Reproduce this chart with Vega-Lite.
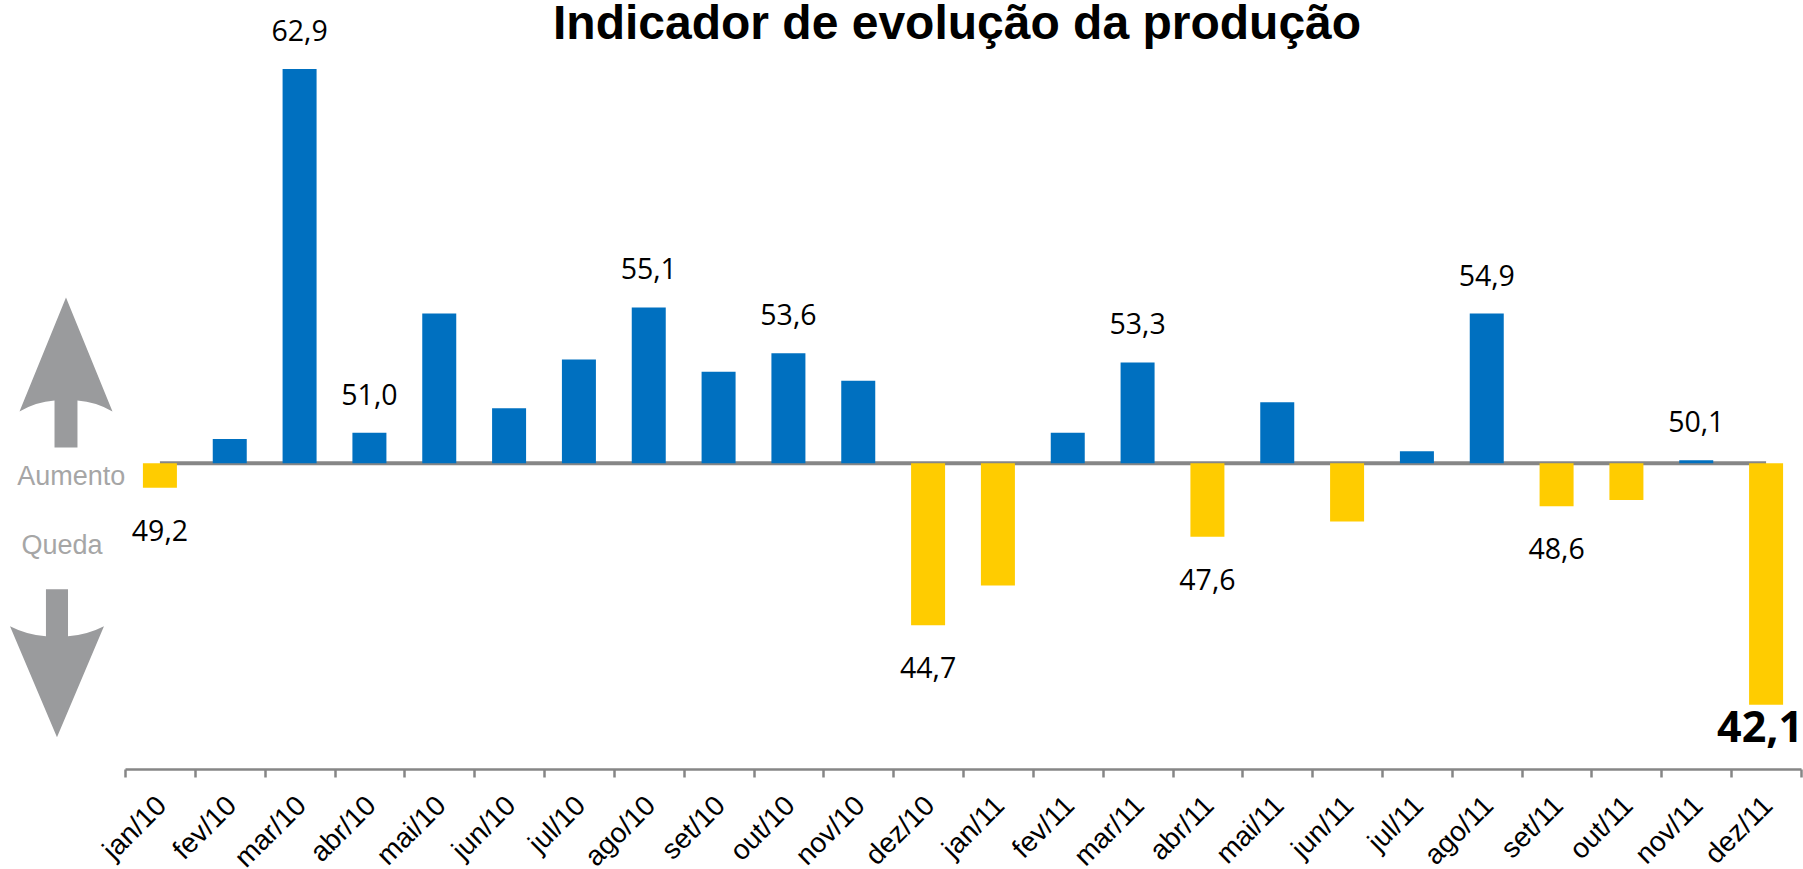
{"$schema":"https://vega.github.io/schema/vega-lite/v6.json","width":1676,"height":769,"autosize":"none","padding":{"left":125,"top":0,"right":2,"bottom":100},"background":"white","data":{"values":[{"mes":"jan/10","valor":49.2,"dir":"Queda","rotulo":"49,2","pos":"abaixo"},{"mes":"fev/10","valor":50.8,"dir":"Aumento"},{"mes":"mar/10","valor":62.9,"dir":"Aumento","rotulo":"62,9","pos":"acima"},{"mes":"abr/10","valor":51.0,"dir":"Aumento","rotulo":"51,0","pos":"acima"},{"mes":"mai/10","valor":54.9,"dir":"Aumento"},{"mes":"jun/10","valor":51.8,"dir":"Aumento"},{"mes":"jul/10","valor":53.4,"dir":"Aumento"},{"mes":"ago/10","valor":55.1,"dir":"Aumento","rotulo":"55,1","pos":"acima"},{"mes":"set/10","valor":53.0,"dir":"Aumento"},{"mes":"out/10","valor":53.6,"dir":"Aumento","rotulo":"53,6","pos":"acima"},{"mes":"nov/10","valor":52.7,"dir":"Aumento"},{"mes":"dez/10","valor":44.7,"dir":"Queda","rotulo":"44,7","pos":"abaixo"},{"mes":"jan/11","valor":46.0,"dir":"Queda"},{"mes":"fev/11","valor":51.0,"dir":"Aumento"},{"mes":"mar/11","valor":53.3,"dir":"Aumento","rotulo":"53,3","pos":"acima"},{"mes":"abr/11","valor":47.6,"dir":"Queda","rotulo":"47,6","pos":"abaixo"},{"mes":"mai/11","valor":52.0,"dir":"Aumento"},{"mes":"jun/11","valor":48.1,"dir":"Queda"},{"mes":"jul/11","valor":50.4,"dir":"Aumento"},{"mes":"ago/11","valor":54.9,"dir":"Aumento","rotulo":"54,9","pos":"acima"},{"mes":"set/11","valor":48.6,"dir":"Queda","rotulo":"48,6","pos":"abaixo"},{"mes":"out/11","valor":48.8,"dir":"Queda"},{"mes":"nov/11","valor":50.1,"dir":"Aumento","rotulo":"50,1","pos":"acima"},{"mes":"dez/11","valor":42.1,"dir":"Queda","rotulo":"42,1","pos":"destaque"}]},"layer":[{"encoding":{"x":{"field":"mes","type":"nominal","sort":null,"title":null,"scale":{"paddingInner":0,"paddingOuter":0},"axis":{"orient":"bottom","tickBand":"extent","grid":false,"domainColor":"#868686","domainWidth":2.5,"tickColor":"#868686","tickWidth":2.5,"tickSize":8,"labelAngle":-45,"labelAlign":"right","labelBaseline":"middle","labelFont":"Liberation Sans","labelFontSize":28,"labelColor":"black","labelPadding":24,"labelOffset":2,"labelOverlap":false}},"y":{"field":"valor","type":"quantitative","scale":{"domain":[40,65.16],"nice":false,"zero":false},"axis":null}},"layer":[{"mark":{"type":"line","color":"#868686","strokeWidth":4},"encoding":{"y":{"datum":50}}},{"mark":{"type":"bar","size":34},"encoding":{"y2":{"datum":50},"color":{"field":"dir","type":"nominal","scale":{"domain":["Aumento","Queda"],"range":["#0070c0","#ffcc00"]},"legend":null}}},{"transform":[{"filter":"datum.pos==='acima'"}],"mark":{"type":"text","font":"Open Sans","fontSize":28.5,"color":"black","baseline":"middle","dy":-37},"encoding":{"text":{"field":"rotulo"}}},{"transform":[{"filter":"datum.pos==='abaixo'"}],"mark":{"type":"text","font":"Open Sans","fontSize":28.5,"color":"black","baseline":"middle","dy":44},"encoding":{"text":{"field":"rotulo"}}},{"transform":[{"filter":"datum.pos==='destaque'"}],"mark":{"type":"text","font":"Open Sans","fontSize":43,"fontWeight":"bold","color":"black","baseline":"middle","dy":24,"dx":-6},"encoding":{"text":{"field":"rotulo"}}}]},{"data":{"values":[{"nome":"Aumento","px":-0.845,"py":52.97,"dir":"up"},{"nome":"Queda","px":-0.974,"py":43.46,"dir":"down"},{"nome":"Aumento","tx":-0.77,"ty":49.54},{"nome":"Queda","tx":-0.902,"ty":47.28},{"titulo":"Indicador de evolução da produção","hx":11.915,"hy":63.89}]},"layer":[{"transform":[{"filter":"datum.dir==='up'"}],"mark":{"type":"point","filled":true,"opacity":1,"color":"#9a9b9d","strokeWidth":0,"size":22500,"shape":"M0,-1 L.62,.52 Q.4,.39 .153,.373 L.153,1 L-.153,1 L-.153,.373 Q-.4,.39 -.62,.52 Z"},"encoding":{"x":{"field":"px","type":"quantitative","scale":{"domain":[0,24],"nice":false,"zero":false},"axis":null},"y":{"field":"py","type":"quantitative"}}},{"transform":[{"filter":"datum.dir==='down'"}],"mark":{"type":"point","filled":true,"opacity":1,"color":"#9a9b9d","strokeWidth":0,"size":21904,"shape":"M0,1 L.635,-.5 Q.4,-.38 .149,-.365 L.149,-1 L-.149,-1 L-.149,-.365 Q-.4,-.38 -.635,-.5 Z"},"encoding":{"x":{"field":"px","type":"quantitative","scale":{"domain":[0,24],"nice":false,"zero":false},"axis":null},"y":{"field":"py","type":"quantitative"}}},{"transform":[{"filter":"isValid(datum.tx)"}],"mark":{"type":"text","font":"Liberation Sans","fontSize":27,"color":"#a6a6a6","baseline":"middle"},"encoding":{"x":{"field":"tx","type":"quantitative","scale":{"domain":[0,24],"nice":false,"zero":false},"axis":null},"y":{"field":"ty","type":"quantitative"},"text":{"field":"nome"}}},{"transform":[{"filter":"isValid(datum.titulo)"}],"mark":{"type":"text","font":"Liberation Sans","fontSize":48,"fontWeight":"bold","color":"black","baseline":"alphabetic"},"encoding":{"x":{"field":"hx","type":"quantitative","scale":{"domain":[0,24],"nice":false,"zero":false},"axis":null},"y":{"field":"hy","type":"quantitative"},"text":{"field":"titulo"}}}],"resolve":{"scale":{"x":"shared"}}}],"resolve":{"scale":{"x":"independent"}},"config":{"view":{"stroke":null}}}
